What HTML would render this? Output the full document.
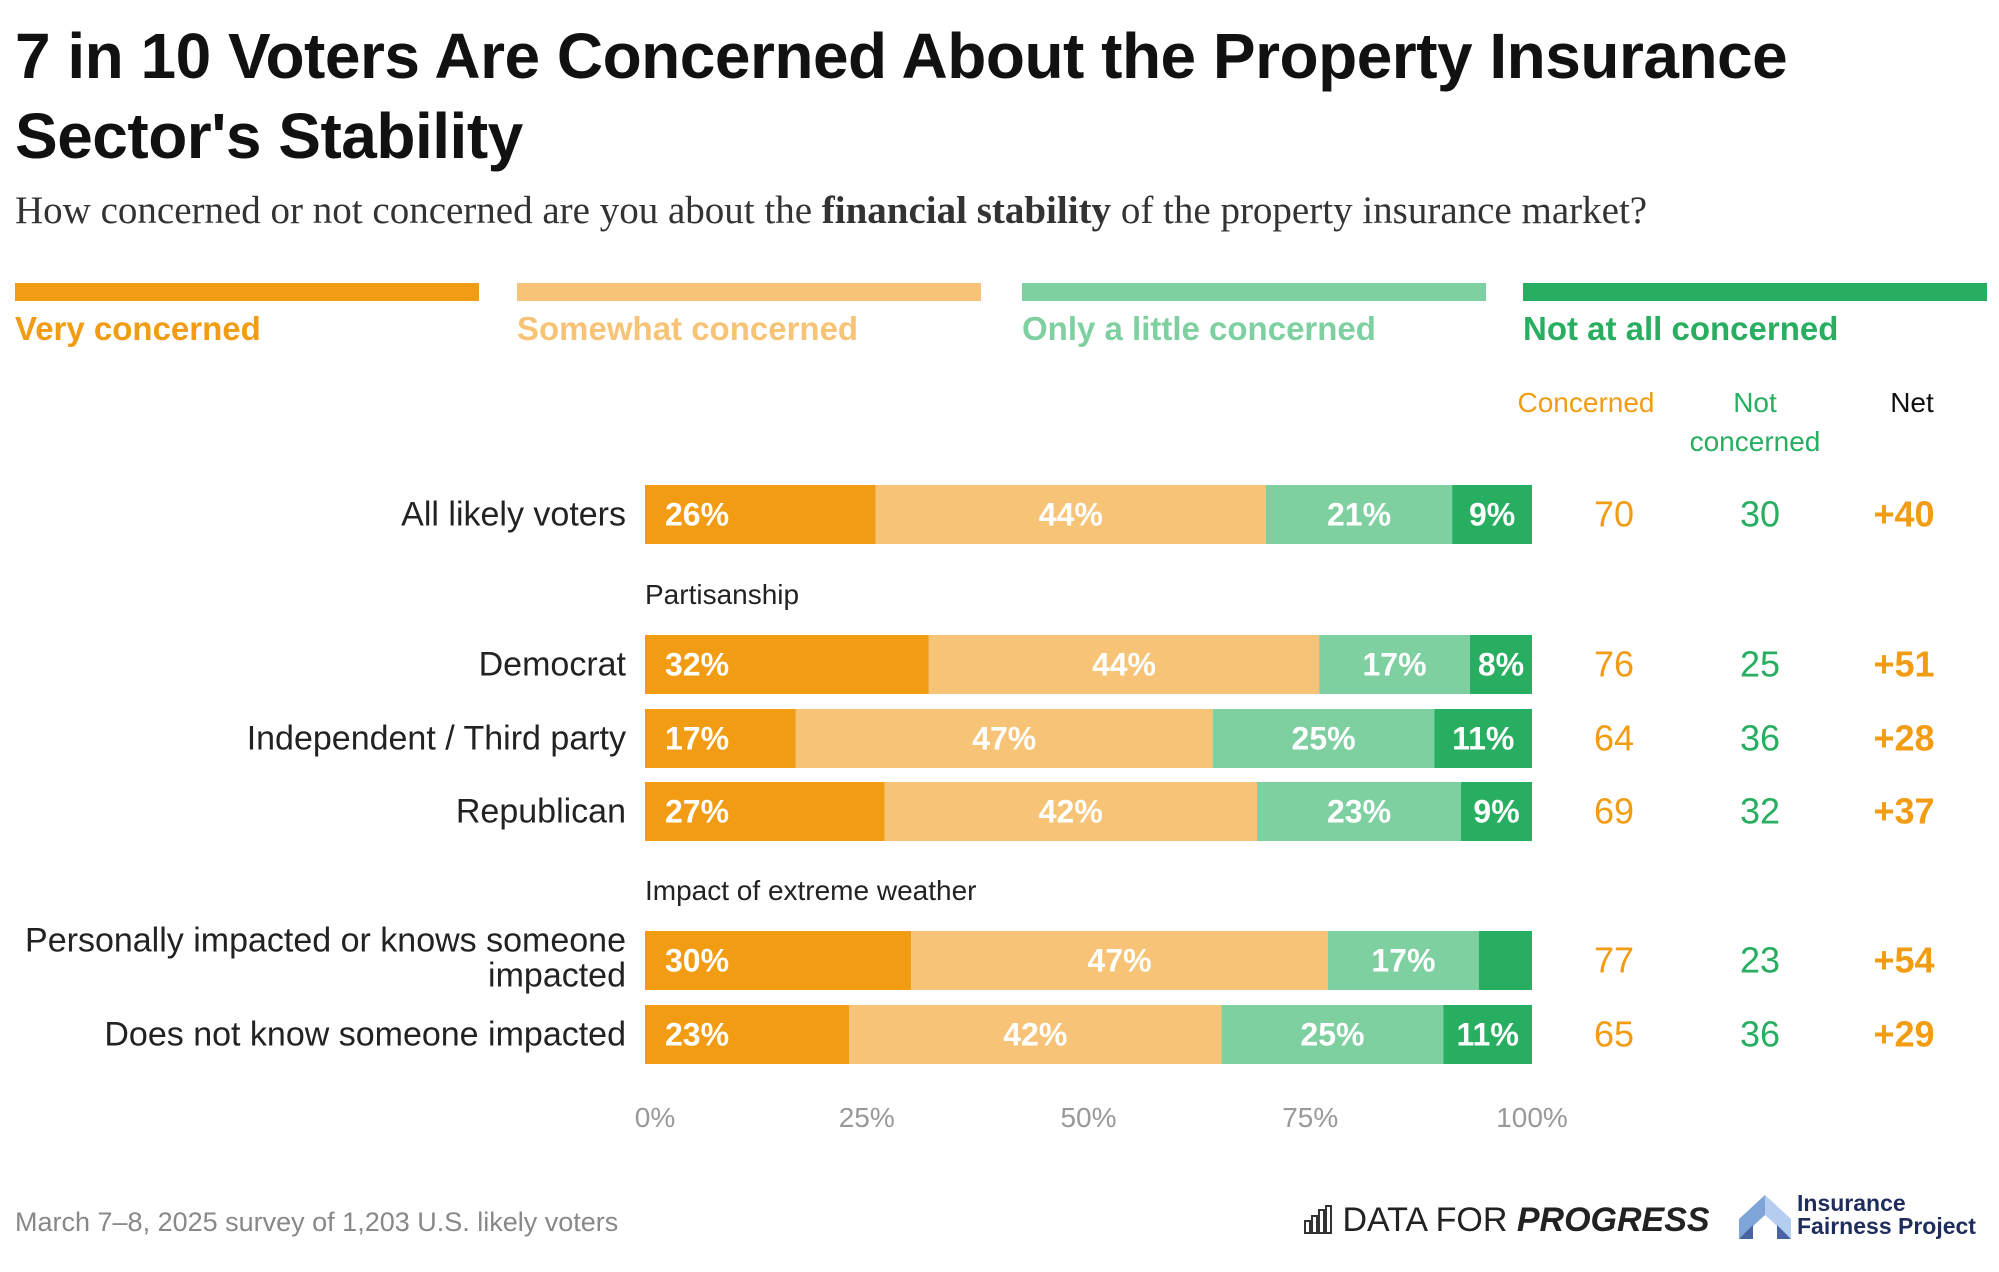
<!DOCTYPE html>
<html><head><meta charset="utf-8"><style>
body{margin:0;width:1999px;height:1272px;background:#fff;font-family:"Liberation Sans",sans-serif;overflow:hidden;position:relative}
.a{position:absolute;white-space:nowrap}
</style></head><body>
<div class="a" style="left:15px;top:16px;font-size:64px;font-weight:bold;line-height:80px;color:#111;letter-spacing:-0.5px">7 in 10 Voters Are Concerned About the Property Insurance<br>Sector's Stability</div>
<div class="a" style="left:15px;top:188px;font-family:'Liberation Serif',serif;font-size:39px;color:#333">How concerned or not concerned are you about the <b>financial stability</b> of the property insurance market?</div>
<svg id="c" width="1999" height="1272" style="position:absolute;left:0;top:0"></svg>
<div class="a" style="left:15px;top:1207px;font-size:27px;color:#888">March 7–8, 2025 survey of 1,203 U.S. likely voters</div>
<div class="a" style="left:1303px;top:1201px;font-size:34px;color:#222">
<svg width="30" height="30" style="vertical-align:-3px"><g fill="none" stroke="#333" stroke-width="2"><rect x="2" y="17" width="5" height="12"/><rect x="9" y="12" width="5" height="17"/><rect x="16" y="6" width="5" height="23"/><rect x="23" y="2" width="5" height="27"/></g></svg> DATA FOR <i><b>PROGRESS</b></i></div>
<svg class="a" style="left:1739px;top:1195px" width="52" height="44"><polygon points="26,0 0,24 0,44 26,20" fill="#7fa4d8"/><polygon points="26,0 52,24 52,44 26,20" fill="#b5cdee"/><polygon points="0,44 14,30 14,44" fill="#4a63a3"/><polygon points="52,44 38,30 38,44" fill="#4a63a3"/></svg>
<div class="a" style="left:1797px;top:1192px;font-size:23px;font-weight:bold;line-height:23px;color:#1f2d5c">Insurance<br>Fairness Project</div>
<script>
const legendLabels=["Very concerned","Somewhat concerned","Only a little concerned","Not at all concerned"];
const colors=["#F29C14","#F7C477","#7FD0A1","#27AE60"];
const categories=["All likely voters","Democrat","Independent / Third party","Republican","Personally impacted or knows someone impacted","Does not know someone impacted"];
const veryConcerned=[26,32,17,27,30,23];
const somewhatConcerned=[44,44,47,42,47,42];
const littleConcerned=[21,17,25,23,17,25];
const notConcerned=[9,8,11,9,6,11];
const showLabel=[[1,1,1,1],[1,1,1,1],[1,1,1,1],[1,1,1,1],[1,1,1,0],[1,1,1,1]];
const concernedTotal=[70,76,64,69,77,65];
const notConcernedTotal=[30,25,36,32,23,36];
const netValues=["+40","+51","+28","+37","+54","+29"];
const ticks=[0,25,50,75,100];
const svg=document.getElementById('c');const NS="http://www.w3.org/2000/svg";
function mk(t,a,txt){const e=document.createElementNS(NS,t);for(const k in a)e.setAttribute(k,a[k]);if(txt!==undefined)e.textContent=txt;svg.appendChild(e);return e;}
const x0=645,x1=1532;const xs=v=>x0+(x1-x0)*v/100;
const rowTop=[485,635,709,782,931,1005];const bh=59;
const lx=[15,517,1022,1523];
legendLabels.forEach((l,i)=>{
 let r=mk('rect',{x:lx[i],y:283,width:464,height:18,fill:colors[i]});
 
 
 let t=mk('text',{x:lx[i],y:340,'font-size':33,'font-weight':'bold',fill:colors[i]},l);
 
 
});
[[1586,403,"Concerned","#F29C14"],[1755,403,"Not","#27AE60"],[1755,442,"concerned","#27AE60"],[1912,403,"Net","#111"]].forEach(h=>{
 let t=mk('text',{x:h[0],y:h[1]+9,'font-size':28,'text-anchor':'middle',fill:h[3]},h[2]);
 
 
});
[[595,"Partisanship"],[891,"Impact of extreme weather"]].forEach(s=>{
 let t=mk('text',{x:645,y:s[0]+9,'font-size':28,fill:'#222'},s[1]);
 
 
});
const series=[veryConcerned,somewhatConcerned,littleConcerned,notConcerned];
categories.forEach((c,i)=>{
 const y=rowTop[i],cy=y+bh/2;
 if(i===4){
  let t=mk('text',{x:626,y:cy-9,'font-size':34,'text-anchor':'end',fill:'#222'},"Personally impacted or knows someone");
  
  
  let t2=mk('text',{x:626,y:cy+26,'font-size':34,'text-anchor':'end',fill:'#222'},"impacted");
  
  
 } else {
  let t=mk('text',{x:626,y:cy+11,'font-size':34,'text-anchor':'end',fill:'#222'},c);
  
  
 }
 let acc=0;
 series.forEach((s,j)=>{
  const v=s[i];const a=xs(acc),b=xs(Math.min(100,acc+v));acc+=v;
  let r=mk('rect',{x:a,y:y,width:b-a,height:bh,fill:colors[j]});
  
  
  if(showLabel[i][j]){
   const tx=j===0?a+20:(a+b)/2;
   let t=mk('text',{x:tx,y:cy+11,'font-size':32,'font-weight':'bold',fill:'#fff','text-anchor':j===0?'start':'middle'},v+"%");
   
   
  }
 });
 let t1=mk('text',{x:1614,y:cy+12,'font-size':36,'text-anchor':'middle',fill:'#F29C14'},concernedTotal[i]);
 
 
 let t2=mk('text',{x:1760,y:cy+12,'font-size':36,'text-anchor':'middle',fill:'#27AE60'},notConcernedTotal[i]);
 
 
 let t3=mk('text',{x:1904,y:cy+12,'font-size':36,'font-weight':'bold','text-anchor':'middle',fill:'#F29C14'},netValues[i]);
 
 
});
ticks.forEach(v=>{
 let t=mk('text',{x:xs(v)+(v===0?10:0),y:1127,'font-size':28,'text-anchor':'middle',fill:'#999'},v+"%");
 
 
});
</script>
</body></html>
